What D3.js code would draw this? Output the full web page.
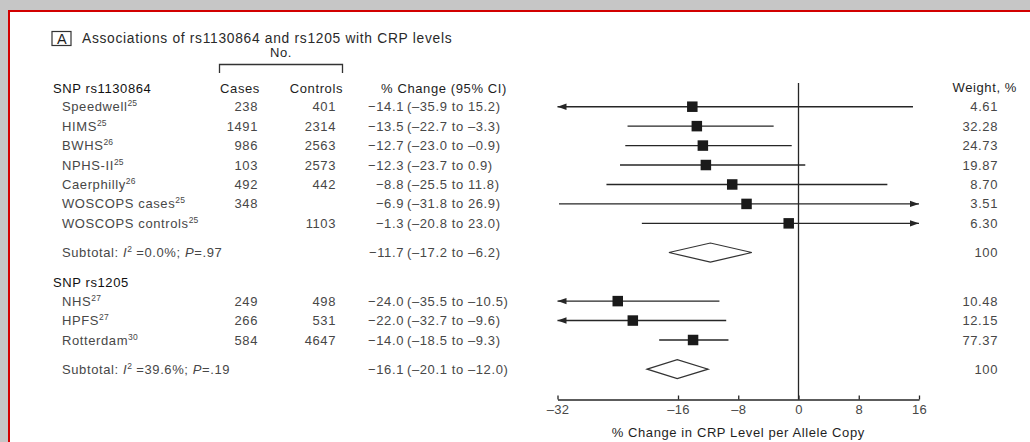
<!DOCTYPE html>
<html><head><meta charset="utf-8">
<script src="https://cdn.jsdelivr.net/npm/d3@7"></script>
<style>
html,body{margin:0;padding:0;background:#c6c6c6;}
svg{display:block;}
text{font-family:"Liberation Sans",Arial,Helvetica,sans-serif;}
</style></head>
<body>
<svg id="chart" width="1030" height="442"></svg>
<script>
// ---------- data ----------
const snp1Names = ["Speedwell","HIMS","BWHS","NPHS-II","Caerphilly","WOSCOPS cases","WOSCOPS controls"];
const snp1Refs = ["25","25","26","25","26","25","25"];
const snp1Cases = [238,1491,986,103,492,348,null];
const snp1Controls = [401,2314,2563,2573,442,null,1103];
const snp1Est = [-14.1,-13.5,-12.7,-12.3,-8.8,-6.9,-1.3];
const snp1Lo = [-35.9,-22.7,-23.0,-23.7,-25.5,-31.8,-20.8];
const snp1Hi = [15.2,-3.3,-0.9,0.9,11.8,26.9,23.0];
const snp1Weight = ["4.61","32.28","24.73","19.87","8.70","3.51","6.30"];
const snp1Subtotal = {est:-11.7, lo:-17.2, hi:-6.2, i2:"0.0%", p:".97", weight:"100"};

const snp2Names = ["NHS","HPFS","Rotterdam"];
const snp2Refs = ["27","27","30"];
const snp2Cases = [249,266,584];
const snp2Controls = [498,531,4647];
const snp2Est = [-24.0,-22.0,-14.0];
const snp2Lo = [-35.5,-32.7,-18.5];
const snp2Hi = [-10.5,-9.6,-9.3];
const snp2Weight = ["10.48","12.15","77.37"];
const snp2Subtotal = {est:-16.1, lo:-20.1, hi:-12.0, i2:"39.6%", p:".19", weight:"100"};

const xTicks = [-32,-16,-8,0,8,16];
const xDomain = [-32,16];
const titleText = "Associations of rs1130864 and rs1205 with CRP levels";
const axisTitle = "% Change in CRP Level per Allele Copy";

// ---------- build rows ----------
const studies = [];
snp1Names.forEach((n,i)=>studies.push({row:i,name:n,ref:snp1Refs[i],cases:snp1Cases[i],controls:snp1Controls[i],est:snp1Est[i],lo:snp1Lo[i],hi:snp1Hi[i],w:snp1Weight[i]}));
snp2Names.forEach((n,i)=>studies.push({row:10+i,name:n,ref:snp2Refs[i],cases:snp2Cases[i],controls:snp2Controls[i],est:snp2Est[i],lo:snp2Lo[i],hi:snp2Hi[i],w:snp2Weight[i]}));
const subtotals = [Object.assign({row:7.5},snp1Subtotal), Object.assign({row:13.5},snp2Subtotal)];
const headers = [{row:-1,label:"SNP rs1130864"},{row:9,label:"SNP rs1205"}];

// ---------- scales ----------
const x = d3.scaleLinear().domain(xDomain).range([557.5,919]);
const y = d3.scaleLinear().domain([0,12]).range([106.7,340]);

const svg = d3.select("#chart");
const FS = 13, LS = "0.6px";
const txtCol = "#474747", darkCol = "#1e1e1e", lineCol = "#262626";

// frame
svg.append("rect").attr("x",0).attr("y",0).attr("width",1030).attr("height",442).attr("fill","#c6c6c6");
svg.append("rect").attr("x",9).attr("y",11).attr("width",1040).attr("height",460)
  .attr("fill","#fff").attr("stroke","#d20000").attr("stroke-width",2);

function t(xp,yp,s,anchor,col,size){
  return svg.append("text").attr("x",xp).attr("y",yp).attr("text-anchor",anchor||"start")
    .attr("fill",col||txtCol).style("font-size",(size||FS)+"px").style("letter-spacing",LS).text(s);
}
const fmt = v => (v<0?"\u2212":"")+Math.abs(v).toFixed(1);
const fmtIn = v => (v<0?"\u2013":"")+Math.abs(v).toFixed(1);

// title
svg.append("rect").attr("x",52).attr("y",31.5).attr("width",19).attr("height",14)
  .attr("fill","none").attr("stroke","#333").attr("stroke-width",1.2);
t(61.8,43.5,"A","middle",darkCol,14.5).style("letter-spacing","0px");
t(82,42.5,titleText,"start","#2a2a2a",13.8).style("letter-spacing","0.7px");

// No. bracket
t(281,57,"No.","middle",darkCol);
svg.append("path").attr("d","M219.5,73V64.5H342.5V73").attr("fill","none").attr("stroke","#333").attr("stroke-width",1.3);

// column headers
const hy = y(-1)+5.5;
t(240,hy,"Cases","middle",darkCol);
t(343,hy,"Controls","end",darkCol);
t(444,hy,"% Change (95% CI)","middle",darkCol);
t(1017,hy-0.5,"Weight, %","end",darkCol);

// section headers
headers.forEach(h=>t(53,y(h.row)+5.5,h.label,"start","#111"));

// study text
studies.forEach(d=>{
  const by = y(d.row)+4.5;
  const el = t(62,by,d.name,"start",txtCol);
  el.append("tspan").attr("dy",-5).style("font-size","8.5px").style("letter-spacing","0.2px").text(d.ref);
  if(d.cases!=null) t(258,by,d.cases,"end");
  if(d.controls!=null) t(336,by,d.controls,"end");
  t(404,by,fmt(d.est),"end");
  t(407,by,"("+fmtIn(d.lo)+" to "+fmtIn(d.hi)+")","start");
  t(998,by,d.w,"end");
});

// subtotal text
subtotals.forEach(d=>{
  const by = y(d.row)+4.5;
  const el = t(62,by,"Subtotal: ","start",txtCol);
  el.append("tspan").style("font-style","italic").text("I");
  el.append("tspan").attr("dy",-5).style("font-size","8.5px").style("letter-spacing","0.2px").text("2");
  el.append("tspan").attr("dy",5).text(" =" + d.i2 + "; ");
  el.append("tspan").style("font-style","italic").text("P");
  el.append("tspan").text("=" + d.p);
  t(404,by,fmt(d.est),"end");
  t(407,by,"("+fmtIn(d.lo)+" to "+fmtIn(d.hi)+")","start");
  t(998,by,d.weight,"end");
});

// zero line
svg.append("line").attr("x1",x(0)).attr("x2",x(0)).attr("y1",83).attr("y2",399.5)
  .attr("stroke",lineCol).attr("stroke-width",1.3);

// CI lines with arrows
const g = svg.append("g");
studies.forEach(d=>{
  const cy = y(d.row);
  const lo = Math.max(d.lo,xDomain[0]), hi = Math.min(d.hi,xDomain[1]);
  g.append("line").attr("x1",x(lo)).attr("x2",x(hi)).attr("y1",cy).attr("y2",cy)
    .attr("stroke",lineCol).attr("stroke-width",1.4);
  if(d.lo<xDomain[0]){
    const tip = x(xDomain[0]);
    g.append("path").attr("d",`M${tip},${cy}L${tip+9},${cy-3.2}L${tip+9},${cy+3.2}Z`).attr("fill",lineCol);
  }
  if(d.hi>xDomain[1]){
    const tip = x(xDomain[1]);
    g.append("path").attr("d",`M${tip},${cy}L${tip-9},${cy-3.2}L${tip-9},${cy+3.2}Z`).attr("fill",lineCol);
  }
  const s = 10.5;
  g.append("rect").attr("x",x(d.est)-s/2).attr("y",cy-s/2).attr("width",s).attr("height",s).attr("fill","#1a1a1a");
});

// diamonds
subtotals.forEach(d=>{
  const cy = y(d.row), h = 9.5;
  g.append("path").attr("d",`M${x(d.lo)},${cy}L${x(d.est)},${cy-h}L${x(d.hi)},${cy}L${x(d.est)},${cy+h}Z`)
    .attr("fill","#fff").attr("stroke","#333").attr("stroke-width",1.2);
});

// axis
const axis = d3.axisBottom(x).tickValues(xTicks).tickSizeInner(-4).tickSizeOuter(0).tickPadding(5)
  .tickFormat(v => v<0 ? "\u2013"+Math.abs(v) : String(v));
const ax = svg.append("g").attr("transform","translate(0,399.5)").call(axis);
ax.select(".domain").attr("stroke",lineCol).attr("stroke-width",1.3);
ax.selectAll(".tick line").attr("stroke",lineCol).attr("stroke-width",1.3);
ax.selectAll(".tick text").attr("fill",txtCol).style("font-size",FS+"px").style("font-family","'Liberation Sans',Arial,sans-serif").style("letter-spacing","0.3px");
t(x(-8),436.5,axisTitle,"middle",darkCol);
</script>
</body></html>
